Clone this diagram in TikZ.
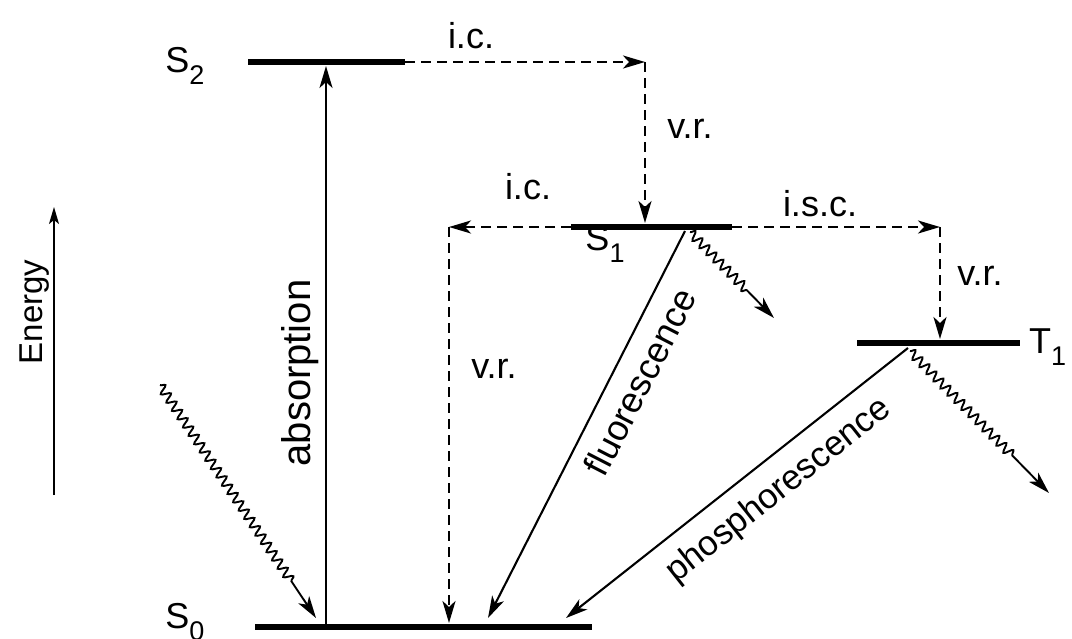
\documentclass[tikz,border=0pt]{standalone}
\usepackage{fontspec}
\setmainfont{Liberation Sans}
\usetikzlibrary{arrows.meta,decorations.pathmorphing}
\newcommand\lsub[1]{\raisebox{-0.32em}{\fontsize{27}{29}\selectfont #1}}
\begin{document}
\begin{tikzpicture}[x=1pt,y=-1pt,
  level/.style={line width=6pt},
  tip/.style={-{Stealth[length=22pt,width=13pt,inset=6pt]}},
  trans/.style={line width=2.1pt,tip},
  nonrad/.style={line width=2.6pt,dash pattern=on 10pt off 6pt,tip},
  wavy/.style={line width=1.9pt,tip,decorate,decoration={snake,amplitude=4.5pt,segment length=10pt,post length=#1}},
  lbl/.style={font=\fontsize{36}{40}\selectfont, inner sep=0pt}
]
\useasboundingbox (0,0) rectangle (1072,638);
\fill[white] (0,0) rectangle (1072,638);

% level end points
\coordinate (S2l) at (248,62);  \coordinate (S2r) at (405,62);
\coordinate (S1l) at (571,227); \coordinate (S1r) at (732,227);
\coordinate (T1l) at (857,343); \coordinate (T1r) at (1020,343);
\coordinate (S0l) at (255,627); \coordinate (S0r) at (592,627);

% energy levels
\draw[level] (S2l) -- (S2r);
\draw[level] (S1l) -- (S1r);
\draw[level] (T1l) -- (T1r);
\draw[level] (S0l) -- (S0r);

% level labels
\node[lbl] (labS2) at (185,66) {S\lsub{2}};
\node[lbl] (labS1) at (605,244) {S\lsub{1}};
\node[lbl] (labS0) at (185,622) {S\lsub{0}};
\node[lbl,anchor=west] (labT1) at (1029,347) {T\lsub{1}};

% helper coordinates
\coordinate (icA) at (645,62);
\coordinate (S1top) at (645,223);
\coordinate (icB) at (449,227);
\coordinate (S0vr) at (449,623);
\coordinate (iscE) at (940,227);
\coordinate (T1top) at (940,339);
\coordinate (absB) at (326,624);
\coordinate (absT) at (326,66);
\coordinate (flA) at (685,231);
\coordinate (flB) at (488,618);
\coordinate (phA) at (908,348);
\coordinate (phB) at (566,618);
\coordinate (w1A) at (160,385);
\coordinate (w1B) at (316,618);
\coordinate (w2A) at (690,232);
\coordinate (w2B) at (774,318);
\coordinate (w3A) at (910,351);
\coordinate (w3B) at (1049,493);
\coordinate (eB) at (54,495);
\coordinate (eT) at (54,207);

% non-radiative (dashed) transitions
\draw[nonrad] (S2r) -- (icA);
\draw[nonrad] (icA) -- (S1top);
\draw[nonrad] (S1l) -- (icB);
\draw[nonrad] (icB) -- (S0vr);
\draw[nonrad] (S1r) -- (iscE);
\draw[nonrad] (iscE) -- (T1top);

% radiative transitions
\draw[trans] (absB) -- (absT);
\draw[trans] (flA) -- (flB);
\draw[trans] (phA) -- (phB);

% wavy arrows
\draw[wavy=40pt] (w1A) -- (w1B);
\draw[wavy=38pt] (w2A) -- (w2B);
\draw[wavy=48pt] (w3A) -- (w3B);

% energy axis
\draw[line width=1.6pt,-{Stealth[length=17pt,width=10pt,inset=4pt]}] (eB) -- (eT);

% labels
\node[lbl] (tIC1) at (471,36) {i.c.};
\node[lbl] (tVR1) at (690,129) {v.r.};
\node[lbl] (tIC2) at (528,187) {i.c.};
\node[lbl] (tISC) at (820,204) {i.s.c.};
\node[lbl] (tVR2) at (980,276) {v.r.};
\node[lbl] (tVR3) at (494,369) {v.r.};
\node[lbl,font=\fontsize{40}{44}\selectfont,rotate=90] (tAbs) at (300,373) {absorption};
\node[lbl,rotate=62.8] (tFl) at (640,382) {fluorescence};
\node[lbl,font=\fontsize{35}{39}\selectfont,rotate=38.3] (tPh) at (779,491) {phosphorescence};
\node[lbl,font=\fontsize{33}{37}\selectfont,rotate=90] (tEn) at (35,312) {Energy};
\end{tikzpicture}
\end{document}
